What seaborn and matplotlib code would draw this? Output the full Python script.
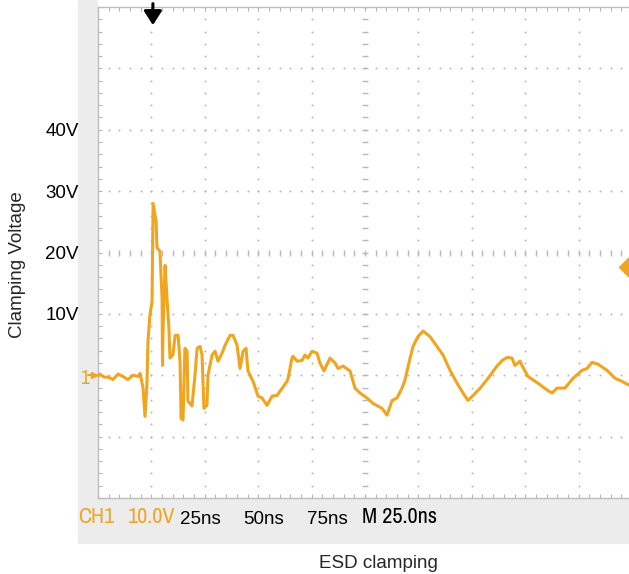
import matplotlib
matplotlib.use("Agg")
import matplotlib.pyplot as plt
from matplotlib import font_manager
from matplotlib.font_manager import FontProperties
from matplotlib.patches import Rectangle
import numpy as np
import pandas as pd
import seaborn as sns

# ESD clamping waveform, CH1 (time in ns after start of record, volts)
time_ns = [0.0, 0.9, 2.8, 4.7, 7.0, 9.4, 11.7, 14.0, 16.4, 18.7, 19.7, 21.1, 22.0,
           22.9, 23.4, 24.3, 25.3, 25.8, 27.2, 27.6, 29.0, 30.0, 30.2, 30.4, 31.4,
           32.3, 33.2, 33.7, 35.1, 36.1, 37.5, 38.4, 38.9, 39.8, 40.7, 41.7, 42.1,
           44.0, 45.4, 46.4, 47.8, 48.7, 49.6, 51.0, 51.5, 53.4, 54.8, 56.2, 58.1,
           59.5, 61.8, 63.2, 65.1, 66.5, 67.9, 69.3, 70.2, 72.6, 74.9, 76.8, 79.1,
           81.5, 83.8, 85.2, 88.5, 89.0, 90.8, 91.3, 93.2, 95.5, 96.9, 98.3, 100.2,
           102.5, 103.9, 105.8, 108.6, 111.0, 112.4, 114.7, 118.0, 120.3, 122.7,
           125.9, 128.8, 133.0, 135.3, 137.7, 140.0, 142.3, 143.7, 146.1, 147.5,
           149.8, 152.2, 155.4, 158.7, 161.5, 164.8, 168.1, 170.9, 173.2, 175.6,
           178.9, 182.6, 186.8, 189.2, 191.5, 193.8, 195.2, 197.6, 198.5, 201.3,
           206.0, 210.2, 212.6, 214.9, 218.6, 222.4, 226.6, 228.9, 231.3, 234.1,
           238.3, 242.1, 245.3, 248.6]
volts = [-0.2, 0.2, -0.3, -0.3, -0.7, 0.2, -0.2, -0.7, 0.0, -0.2, 0.3, -2.1, -6.7,
         -1.6, 5.5, 9.8, 12.0, 28.0, 25.0, 20.8, 20.2, 12.5, 1.6, 6.5, 17.9,
         12.5, 7.6, 2.8, 3.3, 6.5, 6.5, 2.3, -7.0, -7.3, 4.4, 3.9, -4.2,
         -5.0, 0.0, 4.4, 4.7, 3.3, -5.4, -4.9, 0.0, 3.3, 3.9, 2.3, 3.6,
         4.9, 6.5, 6.5, 4.9, 1.1, 3.9, 4.4, 0.7, -1.0, -3.4, -3.7, -4.9,
         -3.4, -3.3, -2.6, -1.0, -0.5, 2.8, 3.1, 2.3, 2.4, 3.3, 2.8, 3.9,
         3.6, 2.0, 0.7, 2.8, 2.0, 1.1, 1.5, 0.7, -2.1, -2.9,
         -3.7, -4.6, -5.4, -6.5, -4.1, -3.7, -2.1, -0.8, 2.8, 4.7,
         6.3, 7.2, 6.3, 4.7, 3.3, 0.8, -1.3, -2.9, -4.1, -3.3,
         -2.1, -0.5, 1.5, 2.4, 2.9, 2.8, 1.6, 2.3, 1.6, -0.2,
         -1.3, -2.4, -2.9, -2.1, -2.1, -0.5, 0.8, 1.1, 2.1, 1.8,
         0.8, -0.5, -1.0, -1.6]

volt_labels = {10: "10V", 20: "20V", 30: "30V", 40: "40V"}
time_labels = ["25ns", "50ns", "75ns"]
channel_label = "CH1"
scale_label = "10.0V"
timebase_label = "M 25.0ns"
trigger_time = 25.7
trigger_level = 17.7

TRACE = "#F1A51F"
BEZEL = "#ECECEC"
GRID = "#B8B8B8"

sns.set_theme(style="white")
plt.rcParams["font.family"] = ["Liberation Sans", "DejaVu Sans"]


def is_regular(f):
    w = f.weight
    return (w in (400, "normal", "regular", "book", "Regular", "Book")) and f.style == "normal"


# a narrow regular face for the scope readout, if one is installed
narrow_faces = [f for f in font_manager.fontManager.ttflist
                if ("narrow" in f.name.lower() or "condensed" in f.name.lower()
                    or "condensed" in str(f.stretch) or f.stretch in (75, 87))
                and is_regular(f)]
narrow_faces.sort(key=lambda f: ("narrow" not in f.name.lower(), f.name))
if narrow_faces:
    readout_font = FontProperties(fname=narrow_faces[0].fname, size=16)
    marker_font = FontProperties(fname=narrow_faces[0].fname, size=14)
else:
    readout_font = FontProperties(family="Liberation Sans", size=13)
    marker_font = FontProperties(family="Liberation Sans", size=12)

W, H = 629, 574
fig = plt.figure(figsize=(W / 100, H / 100), dpi=100)


def fx(px):
    return px / W


def fy(py):
    return 1 - py / H


# scope bezel around the graticule
fig.patches.append(Rectangle((fx(78), fy(543)), 1 - fx(78), fy(0) - fy(543),
                             transform=fig.transFigure, color=BEZEL, zorder=-10))
fig.patches.append(Rectangle((fx(98), fy(8)), 1 - fx(98), 8 / H,
                             transform=fig.transFigure, color="white", zorder=-9))

ax = fig.add_axes([fx(98), fy(498), (632 - 98) / W, (498 - 7) / H])
ax.set_zorder(1)
ax.set_facecolor("white")
ax.set_xlim(0, 250)
ax.set_ylim(-20, 60)

# dotted graticule
major_t = np.arange(25, 250, 25)
major_v = np.arange(-10, 60, 10)
minor_t = np.arange(0, 250.1, 5)
minor_v = np.arange(-20, 60.1, 2)
for t in major_t:
    if t == 125:
        continue
    ax.scatter(np.full(minor_v.size, t), minor_v, s=2.0, color=GRID, lw=0, zorder=1)
for v in major_v:
    if v == 20:
        continue
    ax.scatter(minor_t, np.full(minor_t.size, v), s=2.0, color=GRID, lw=0, zorder=1)
# centre crosshair with tick marks
ax.plot(np.full(minor_v.size, 125), minor_v, ls="none", marker="_", ms=5,
        mew=1.0, color=GRID, zorder=1)
ax.plot(minor_t, np.full(minor_t.size, 20), ls="none", marker="|", ms=5,
        mew=1.0, color=GRID, zorder=1)

# the trace
df = pd.DataFrame({"t": time_ns, "v": volts})
sns.lineplot(data=df, x="t", y="v", ax=ax, color=TRACE, lw=2.2,
             sort=False, estimator=None, zorder=3)

# frame and edge ticks
for s in ax.spines.values():
    s.set_color("#BDBDBD")
    s.set_linewidth(1.0)
ax.set_xticks(np.arange(0, 251, 25))
ax.set_xticks(minor_t, minor=True)
ax.set_xticklabels([])
ax.set_yticks(np.arange(-20, 61, 10))
ax.set_yticks(minor_v, minor=True)
ax.set_yticklabels([volt_labels.get(int(v), "") for v in np.arange(-20, 61, 10)])
ax.tick_params(which="both", direction="in", top=True, bottom=True, left=True,
               right=False, color="#B5B5B5", length=3, width=0.8)
ax.tick_params(axis="y", which="major", pad=14, labelsize=13.5, labelcolor="black")
ax.set_xlabel("")
ax.set_ylabel("")

# trigger position and level markers
ax.annotate("", xy=(trigger_time, 56.6), xytext=(trigger_time, 61.0),
            arrowprops=dict(arrowstyle="-|>,head_width=0.45,head_length=0.7",
                            lw=2.2, color="black"),
            annotation_clip=False, zorder=5)
ax.plot([248.8], [trigger_level], marker="D", ms=10, color=TRACE, clip_on=False, zorder=5)

# ground reference marker
fig.text(fx(84), fy(379), "1", color=TRACE, ha="center", va="center",
         fontproperties=marker_font)
ax.plot([-2.0], [0], marker=">", ms=5, color=TRACE, clip_on=False, zorder=5)
ax.plot([-4.5, -0.5], [0, 0], color=TRACE, lw=1.5, clip_on=False, zorder=5)

# readout line in the bezel
fig.text(fx(78), fy(517), channel_label, color=TRACE, ha="left", va="center",
         fontproperties=readout_font)
fig.text(fx(128), fy(517), scale_label, color=TRACE, ha="left", va="center",
         fontproperties=readout_font)
for x0, lab in zip([180, 243, 307], time_labels):
    fig.text(fx(x0), fy(520), lab, color="black", fontsize=13.5, ha="left", va="center")
fig.text(fx(362), fy(517), timebase_label, color="black", ha="left", va="center",
         fontproperties=readout_font)

fig.text(fx(18), fy(265), "Clamping Voltage", rotation=90, fontsize=13.5,
         ha="center", va="center")
fig.text(fx(378), fy(563), "ESD clamping", fontsize=13.5, ha="center", va="center")

fig.savefig("out.png", dpi=100)
